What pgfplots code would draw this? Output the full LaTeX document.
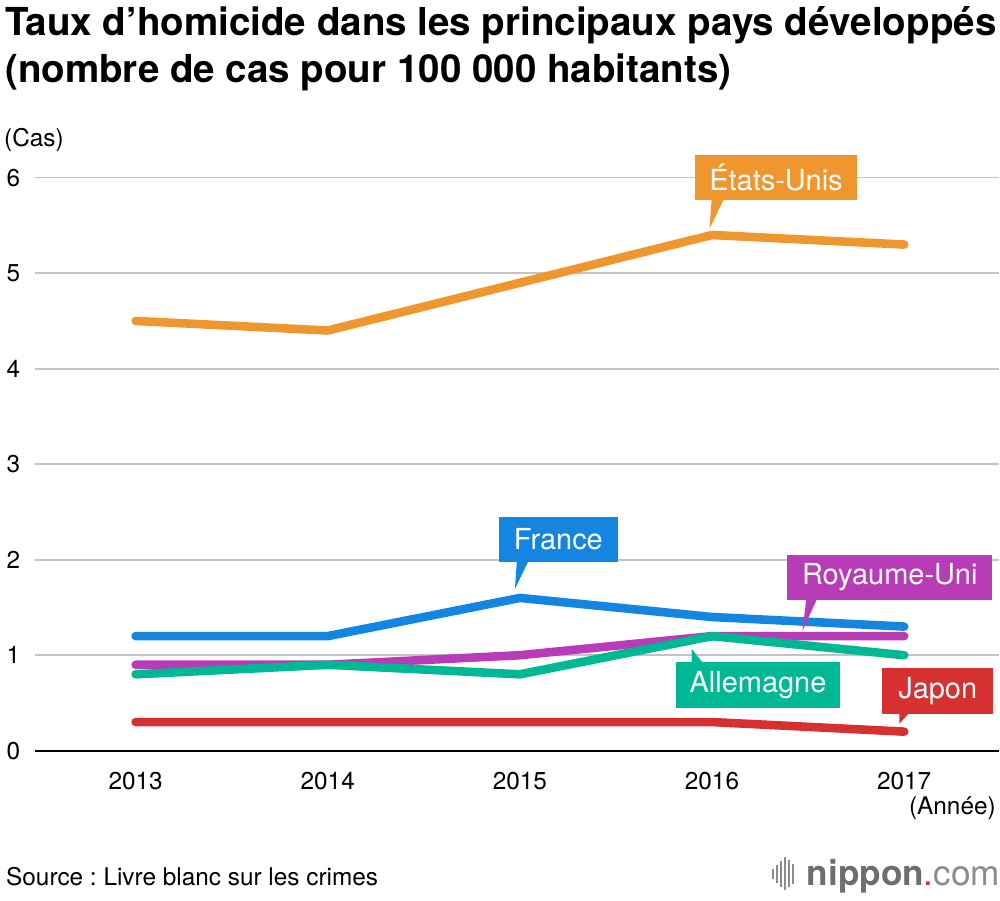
\documentclass[border=0pt]{standalone}
\usepackage{fontspec}
\setmainfont{TeX Gyre Heros}
\usepackage{pgfplots}
\pgfplotsset{compat=1.18}

\definecolor{usorange}{HTML}{F0962E}
\definecolor{frblue}{HTML}{1485E0}
\definecolor{ukpurple}{HTML}{B83BB8}
\definecolor{degreen}{HTML}{00B893}
\definecolor{jpred}{HTML}{D63030}
\definecolor{gridgray}{HTML}{C4C4C4}
\definecolor{logogray}{HTML}{6E6E6E}
\definecolor{logolight}{HTML}{8C8C8C}
\definecolor{logored}{HTML}{E8262E}

\begin{document}
\frenchspacing
\begin{tikzpicture}
\begin{axis}[
  at={(17pt,75pt)}, anchor=south west,
  scale only axis, width=483pt, height=287pt,
  xmin=2012.475, xmax=2017.494, ymin=0, ymax=6,
  xtick={2013,...,2017}, ytick={0,...,6},
  axis line style={draw=none}, major tick length=0pt,
  ymajorgrids, grid style={color=gridgray, line width=0.8pt},
  /pgf/number format/1000 sep={},
  /pgf/number format/assume math mode=true,
  tick label style={font=\fontsize{12.2}{14}\selectfont},
  yticklabel style={xshift=-3.75pt},
  xticklabel style={yshift=-7pt},
  clip=false,
  every axis plot/.append style={line width=4.3pt, line cap=round, line join=round, mark=none},
]
\draw[black, line width=0.9pt] (rel axis cs:0,0) -- (rel axis cs:1,0);
% Japon
\addplot[jpred] coordinates {(2013,0.3)(2014,0.3)(2015,0.3)(2016,0.3)(2017,0.2)};
% France
\addplot[frblue] coordinates {(2013,1.2)(2014,1.2)(2015,1.6)(2016,1.4)(2017,1.3)};
% Royaume-Uni
\addplot[ukpurple] coordinates {(2013,0.9)(2014,0.9)(2015,1.0)(2016,1.2)(2017,1.2)};
% Allemagne
\addplot[degreen] coordinates {(2013,0.8)(2014,0.9)(2015,0.8)(2016,1.2)(2017,1.0)};
% Etats-Unis
\addplot[usorange] coordinates {(2013,4.5)(2014,4.4)(2015,4.9)(2016,5.4)(2017,5.3)};
\end{axis}

\begin{scope}[x=0.5pt, y=0.5pt]
\path[use as bounding box] (0,0) rectangle (1000,902);
% title
\node[anchor=base west, inner sep=0, font=\fontsize{19.3}{22}\selectfont\bfseries] at (4,866) {Taux d’homicide dans les principaux pays développés};
\node[anchor=base west, inner sep=0, font=\fontsize{19.3}{22}\selectfont\bfseries] at (4,819) {(nombre de cas pour 100 000 habitants)};
\node[anchor=base west, inner sep=0, font=\fontsize{12.2}{14}\selectfont] at (3,755) {(Cas)};
\node[anchor=base east, inner sep=0, font=\fontsize{12.2}{14}\selectfont] at (997,86) {(Année)};
\node[anchor=base west, inner sep=0, font=\fontsize{12.2}{14}\selectfont] at (5,15) {Source : Livre blanc sur les crimes};

% callouts
\tikzset{callout/.style={inner sep=0, text=white, font=\fontsize{14.5}{17}\selectfont, minimum height=22.5pt}}
\fill[usorange] (712,702) -- (724,702) -- (710,673) -- cycle;
\node[callout, fill=usorange, minimum width=81.5pt] at (776.5,724.5) {États-Unis};
\fill[frblue] (517,341) -- (529,341) -- (515,312) -- cycle;
\node[callout, fill=frblue, minimum width=59.5pt] at (558.5,361.5) {France};
\fill[ukpurple] (807,303) -- (818,303) -- (803,270) -- cycle;
\node[callout, fill=ukpurple, minimum width=102.5pt] at (890.5,323.5) {Royaume-Uni};
\fill[degreen] (692,237) -- (704,237) -- (692,252) -- cycle;
\node[callout, fill=degreen, minimum width=82.5pt, minimum height=23pt] at (758.5,216) {Allemagne};
\fill[jpred] (900,189) -- (911,189) -- (900,177) -- cycle;
\node[callout, fill=jpred, minimum width=55.5pt, minimum height=23pt] at (938.5,210) {Japon};

% logo
\foreach \bx/\bh in {773/10, 777/18, 781/26, 785/34, 789/28, 793/20}
  \fill[logolight] (\bx,{17-\bh/2+10}) rectangle ++(2,\bh);
\node[anchor=base west, inner sep=0, font=\fontsize{17.6}{20}\selectfont] at (807,15)
  {\textcolor{logogray}{\bfseries nippon}\textcolor{logored}{.}\textcolor{logolight}{com}};
\end{scope}
\end{tikzpicture}
\end{document}
